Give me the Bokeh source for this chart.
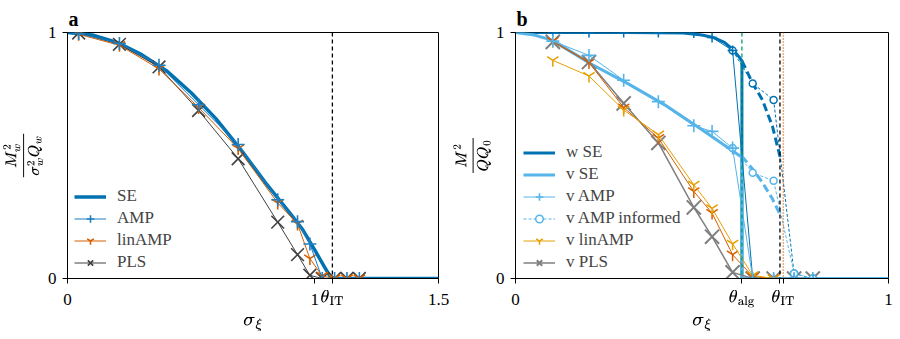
from bokeh.plotting import figure
from bokeh.layouts import row
from bokeh.models import FixedTicker, Span, TeX, Legend, LegendItem
from bokeh.embed import file_html
from bokeh.resources import INLINE

# ---------------- data: panel a ----------------
a_x = [0.045, 0.21, 0.37, 0.53, 0.69, 0.85, 0.93, 0.98, 1.03, 1.08, 1.13, 1.18]
a_amp = [0.996, 0.955, 0.867, 0.706, 0.545, 0.32, 0.231, 0.14, 0.0, 0.0, 0.0, 0.0]
a_lin = [0.993, 0.948, 0.852, 0.695, 0.528, 0.307, 0.222, 0.081, 0.01, 0.0, 0.0, 0.0]
a_pls = [0.998, 0.952, 0.86, 0.683, 0.487, 0.229, 0.097, 0.013, 0.0, 0.0, 0.0, 0.0]
a_se_x = [0.0, 0.1, 0.2, 0.3, 0.4, 0.5, 0.6, 0.7, 0.8, 0.9, 0.95, 1.0, 1.04, 1.067, 1.5]
a_se_y = [1.0, 0.99, 0.96, 0.91, 0.845, 0.755, 0.65, 0.525, 0.39, 0.265, 0.20, 0.115, 0.045, 0.0, 0.0]
a_theta_it = 1.071
a_ticks = [0, 1, 1.071, 1.5]

# ---------------- data: panel b ----------------
b_x = [0.1, 0.197, 0.29, 0.383, 0.478, 0.527, 0.582, 0.636, 0.692, 0.747, 0.797]
b_w_amp = [1.0, 1.0, 1.0, 1.0, 0.998, 0.98, 0.927, 0.0, 0.0, 0.0, 0.0]
b_v_amp = [0.965, 0.907, 0.806, 0.719, 0.621, 0.598, 0.53, 0.0, 0.0, 0.0, 0.0]
b_inf_x = [0.582, 0.636, 0.692, 0.747, 0.797]
b_w_inf = [0.927, 0.793, 0.726, 0.02, 0.0]
b_v_inf = [0.53, 0.43, 0.397, 0.02, 0.0]
b_lin_x = [0.1, 0.197, 0.29, 0.383, 0.478, 0.527, 0.582, 0.636, 0.692]
b_v_lin = [0.887, 0.823, 0.685, 0.585, 0.381, 0.285, 0.141, 0.013, 0.0]
b_w_lin = [0.965, 0.878, 0.695, 0.571, 0.354, 0.266, 0.097, 0.008, 0.0]
b_v_pls = [0.962, 0.88, 0.712, 0.551, 0.289, 0.17, 0.025, 0.0, 0.0, 0.0, 0.0]
b_wse_x = [0.0, 0.3, 0.45, 0.5, 0.53, 0.56, 0.582, 0.6, 0.607, 0.607, 1.0]
b_wse_y = [1.0, 1.0, 0.998, 0.99, 0.98, 0.96, 0.932, 0.9, 0.885, 0.0, 0.0]
b_wse_d_x = [0.607, 0.636, 0.662, 0.689, 0.711]
b_wse_d_y = [0.885, 0.793, 0.726, 0.618, 0.484]
b_vse_x = [0.0, 0.05, 0.1, 0.2, 0.3, 0.4, 0.5, 0.6, 0.607, 0.607, 1.0]
b_vse_y = [1.0, 0.99, 0.968, 0.874, 0.793, 0.706, 0.605, 0.50, 0.497, 0.0, 0.0]
b_vse_d_x = [0.607, 0.636, 0.662, 0.689, 0.711]
b_vse_d_y = [0.497, 0.444, 0.39, 0.323, 0.255]
b_theta_alg = 0.607
b_theta_it = 0.709
b_theta_it2 = 0.718
b_ticks = [0, 0.607, 0.709, 0.718, 1]

DBLUE = "#0072B2"
LBLUE = "#56B4E9"
VERM = "#D55E00"
ORANGE = "#E69F00"
FONT = "Liberation Serif"


def style(p, title):
    p.outline_line_color = "black"
    p.outline_line_alpha = 1
    p.outline_line_width = 1
    p.xgrid.visible = False
    p.ygrid.visible = False
    for ax in (p.xaxis[0], p.yaxis[0]):
        ax.axis_line_color = "black"
        ax.major_tick_line_color = "black"
        ax.minor_tick_line_color = None
        ax.major_tick_in = 0
        ax.major_tick_out = 5
        ax.major_label_text_font = FONT
        ax.major_label_text_font_size = "17px"
        ax.major_label_text_color = "black"
        ax.axis_label_text_font = FONT
        ax.axis_label_text_font_style = "normal"
        ax.axis_label_text_color = "black"
    p.xaxis.axis_label_text_font_size = "18px"
    p.yaxis.axis_label_text_font_size = "15px"
    p.xaxis.major_label_standoff = 6
    p.yaxis.major_label_standoff = 6
    p.xaxis.axis_label_standoff = 5
    p.yaxis.axis_label_standoff = 2
    p.yaxis.ticker = FixedTicker(ticks=[0, 1])
    p.title.text = title
    p.title.text_font = FONT
    p.title.text_font_style = "bold"
    p.title.text_font_size = "20px"
    p.title.text_color = "black"
    p.title.align = "left"
    p.title.offset = 1
    p.title.standoff = 6


def make_legend(p, items, loc):
    lg = Legend(items=items, location=loc)
    lg.background_fill_alpha = 0
    lg.border_line_color = None
    lg.label_text_font = FONT
    lg.label_text_font_size = "17px"
    lg.label_height = 19
    lg.glyph_height = 19
    lg.glyph_width = 32
    lg.spacing = 2
    lg.padding = 0
    lg.margin = 0
    lg.label_standoff = 11
    p.add_layout(lg)


# ---------------- panel a ----------------
pa = figure(width=450, height=339, x_range=(0, 1.5), y_range=(0, 1),
            output_backend="svg", toolbar_location=None,
            min_border_left=64, min_border_right=12, min_border_top=32, min_border_bottom=59)
style(pa, "a")
pa.xaxis.ticker = FixedTicker(ticks=a_ticks)
pa.xaxis.major_label_overrides = {0: "0", 1: "1", 1.071: TeX(r"\theta_{\mathrm{IT}}"), 1.5: "1.5"}
pa.xaxis.axis_label = r"$$\sigma_\xi$$"
pa.yaxis.axis_label = r"$$\frac{M_w^2}{\sigma_w^2 Q_w}$$"

pa.add_layout(Span(location=a_theta_it, dimension="height", line_color="black",
                   line_dash="4 3", line_width=1.3))

r_se = pa.line(a_se_x, a_se_y, line_color=DBLUE, line_width=3.5)
r_pls_l = pa.line(a_x, a_pls, line_color="#404040", line_width=1)
r_pls_m = pa.scatter(a_x, a_pls, marker="x", size=18, line_color="#404040", line_width=1.6)
r_lin_l = pa.line(a_x, a_lin, line_color=VERM, line_width=1)
r_lin_m = pa.scatter(a_x, a_lin, marker="y", size=13, line_color=VERM, line_width=1.6)
r_amp_l = pa.line(a_x, a_amp, line_color="#1f7fc0", line_width=1)
r_amp_m = pa.scatter(a_x, a_amp, marker="cross", size=13, line_color="#1f7fc0", line_width=1.6)

make_legend(pa, [
    LegendItem(label="SE", renderers=[r_se]),
    LegendItem(label="AMP", renderers=[r_amp_l, r_amp_m]),
    LegendItem(label="linAMP", renderers=[r_lin_l, r_lin_m]),
    LegendItem(label="PLS", renderers=[r_pls_l, r_pls_m]),
], (7, 6))

# ---------------- panel b ----------------
pb = figure(width=450, height=339, x_range=(0, 1), y_range=(0, 1),
            output_backend="svg", toolbar_location=None,
            min_border_left=64, min_border_right=12, min_border_top=32, min_border_bottom=59)
style(pb, "b")
pb.xaxis.ticker = FixedTicker(ticks=b_ticks)
pb.xaxis.major_label_overrides = {0: "0", 0.607: TeX(r"\theta_{\mathrm{alg}}"), 0.709: "",
                                  0.718: TeX(r"\theta_{\mathrm{IT}}"), 1: "1"}
pb.xaxis.axis_label = r"$$\sigma_\xi$$"
pb.yaxis.axis_label = r"$$\frac{M^2}{Q Q_0}$$"

r_wse = pb.line(b_wse_x, b_wse_y, line_color=DBLUE, line_width=3)
pb.line(b_wse_d_x, b_wse_d_y, line_color=DBLUE, line_width=3, line_dash="8 4")
r_vse = pb.line(b_vse_x, b_vse_y, line_color=LBLUE, line_width=3)
pb.line(b_vse_d_x, b_vse_d_y, line_color=LBLUE, line_width=3, line_dash="8 4")

r_pls_l = pb.line(b_x, b_v_pls, line_color="#7f7f7f", line_width=1.5)
r_pls_m = pb.scatter(b_x, b_v_pls, marker="x", size=20, line_color="#7f7f7f", line_width=2)
pb.line(b_lin_x, b_w_lin, line_color=VERM, line_width=1)
pb.scatter(b_lin_x, b_w_lin, marker="y", size=13, line_color=VERM, line_width=1.5)
r_lin_l = pb.line(b_lin_x, b_v_lin, line_color=ORANGE, line_width=1)
r_lin_m = pb.scatter(b_lin_x, b_v_lin, marker="y", size=13, line_color=ORANGE, line_width=1.5)

pb.line(b_inf_x, b_w_inf, line_color=DBLUE, line_width=1, line_dash="3 2")
pb.scatter(b_inf_x, b_w_inf, marker="circle", size=7, line_color=DBLUE, fill_color="white", line_width=1.5)
r_inf_l = pb.line(b_inf_x, b_v_inf, line_color=LBLUE, line_width=1, line_dash="3 2")
r_inf_m = pb.scatter(b_inf_x, b_v_inf, marker="circle", size=7, line_color=LBLUE, fill_color="white", line_width=1.5)

pb.line(b_x, b_w_amp, line_color=DBLUE, line_width=1)
pb.scatter(b_x, b_w_amp, marker="cross", size=10, line_color=DBLUE, line_width=1.5)
r_amp_l = pb.line(b_x, b_v_amp, line_color=LBLUE, line_width=1)
r_amp_m = pb.scatter(b_x, b_v_amp, marker="cross", size=13, line_color=LBLUE, line_width=1.6)

pb.add_layout(Span(location=b_theta_alg, dimension="height", line_color="#009E73",
                   line_dash="4 3", line_width=1.3))
pb.add_layout(Span(location=b_theta_it, dimension="height", line_color="black",
                   line_dash="4 3", line_width=1.3))
pb.add_layout(Span(location=b_theta_it2, dimension="height", line_color=VERM,
                   line_dash="1 2", line_width=1.5))

make_legend(pb, [
    LegendItem(label="w SE", renderers=[r_wse]),
    LegendItem(label="v SE", renderers=[r_vse]),
    LegendItem(label="v AMP", renderers=[r_amp_l, r_amp_m]),
    LegendItem(label="v AMP informed", renderers=[r_inf_l, r_inf_m]),
    LegendItem(label="v linAMP", renderers=[r_lin_l, r_lin_m]),
    LegendItem(label="v PLS", renderers=[r_pls_l, r_pls_m]),
], (8, 6))

layout = row(pa, pb, spacing=0)
open("out.html", "w").write(file_html(layout, INLINE))
